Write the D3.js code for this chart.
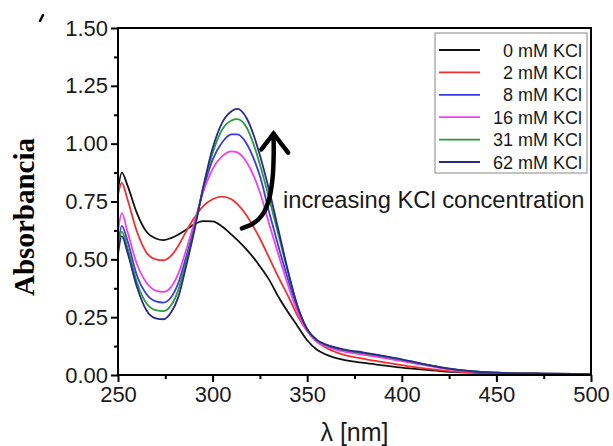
<!DOCTYPE html>
<html><head><meta charset="utf-8">
<script src="https://cdn.jsdelivr.net/npm/d3@7"></script>
<style>html,body{margin:0;padding:0;background:#fff}svg{display:block}</style>
</head><body>
<svg id="c" width="613" height="446"></svg>
<script>
const wavelengths = [250,252,255,260,265,270,274,278,282,286,290,295,300,305,310,313,318,322,325,330,335,340,345,350,355,360,370,380,390,400,410,420,430,440,450,475,500];
const kcl0  = [0.80,0.875,0.82,0.70,0.62,0.59,0.583,0.592,0.607,0.628,0.650,0.665,0.664,0.642,0.607,0.584,0.542,0.503,0.470,0.410,0.335,0.270,0.210,0.150,0.110,0.088,0.064,0.052,0.042,0.032,0.024,0.017,0.012,0.009,0.007,0.004,0.003];
const kcl2  = [0.78,0.83,0.76,0.62,0.53,0.50,0.496,0.515,0.560,0.620,0.675,0.730,0.760,0.771,0.760,0.740,0.690,0.635,0.590,0.505,0.420,0.340,0.255,0.190,0.145,0.118,0.086,0.070,0.056,0.043,0.031,0.021,0.014,0.010,0.008,0.005,0.004];
const kcl8  = [0.56,0.645,0.58,0.43,0.35,0.318,0.313,0.335,0.400,0.510,0.630,0.800,0.930,1.005,1.040,1.040,1.000,0.930,0.860,0.700,0.550,0.410,0.285,0.195,0.150,0.128,0.105,0.092,0.079,0.064,0.048,0.033,0.021,0.014,0.010,0.006,0.004];
const kcl16 = [0.62,0.70,0.62,0.48,0.40,0.365,0.359,0.380,0.440,0.540,0.650,0.790,0.890,0.945,0.967,0.962,0.920,0.855,0.790,0.650,0.515,0.385,0.270,0.190,0.145,0.124,0.100,0.087,0.074,0.060,0.045,0.031,0.020,0.013,0.010,0.006,0.004];
const kcl31 = [0.54,0.62,0.55,0.40,0.31,0.28,0.276,0.300,0.370,0.490,0.620,0.810,0.960,1.060,1.100,1.106,1.070,0.990,0.910,0.760,0.600,0.440,0.295,0.198,0.152,0.130,0.108,0.095,0.082,0.066,0.049,0.034,0.022,0.014,0.010,0.006,0.004];
const kcl62 = [0.52,0.60,0.53,0.38,0.28,0.245,0.241,0.270,0.340,0.470,0.610,0.810,0.980,1.090,1.140,1.150,1.110,1.030,0.950,0.795,0.620,0.445,0.295,0.198,0.152,0.131,0.110,0.097,0.083,0.068,0.050,0.034,0.022,0.014,0.010,0.006,0.004];
const seriesNames = ["0 mM KCl","2 mM KCl","8 mM KCl","16 mM KCl","31 mM KCl","62 mM KCl"];
const seriesColors = ["#111111","#f03030","#3a3ae8","#f040f0","#2a9a3a","#2a2a88"];
const xTicks = [250,300,350,400,450,500];
const yTicks = [0,0.25,0.5,0.75,1.0,1.25,1.5];
const annotationText = "increasing KCl concentration";
const arrowPath = [[315.5,0.634],[321.5,0.655],[326.5,0.695],[330.0,0.765],[331.8,0.860],[332.3,0.960],[332.2,1.043]];
const arrowHead = [[325.8,0.975],[332.2,1.043],[339.9,0.961]];

const allSeries = [kcl0,kcl2,kcl8,kcl16,kcl31,kcl62];
const svg = d3.select("#c");
const L = 118, R = 591, T = 28, B = 375;
const x = d3.scaleLinear().domain([250,500]).range([L,R]);
const y = d3.scaleLinear().domain([0,1.5]).range([B,T]);
const font = "Liberation Sans, Arial, sans-serif";

// stray mark at top-left
svg.append("line").attr("x1",43).attr("y1",15).attr("x2",40).attr("y2",21)
  .attr("stroke","#000").attr("stroke-width",2.5).attr("stroke-linecap","round");

svg.append("defs").append("clipPath").attr("id","pc")
  .append("rect").attr("x",L).attr("y",T-2).attr("width",R-L).attr("height",B-T+2);

const line = d3.line().x((d,i)=>x(wavelengths[i])).y(d=>y(d)).curve(d3.curveMonotoneX);
const g = svg.append("g").attr("clip-path","url(#pc)");
allSeries.forEach((s,i)=>{
  g.append("path").datum(s).attr("d",line).attr("fill","none")
    .attr("stroke",seriesColors[i]).attr("stroke-width",1.8).attr("stroke-linejoin","round");
});

// frame
svg.append("rect").attr("x",L).attr("y",T).attr("width",R-L).attr("height",B-T)
  .attr("fill","none").attr("stroke","#000").attr("stroke-width",2);

// axes
const xAxis = d3.axisBottom(x).tickValues(xTicks).tickSize(7).tickPadding(4).tickFormat(d3.format("d"));
const xMinor = d3.axisBottom(x).tickValues(d3.range(275,500,50)).tickSize(4).tickFormat("");
const yAxis = d3.axisLeft(y).tickValues(yTicks).tickSize(7).tickPadding(3).tickFormat(d3.format(".2f"));
const yMinor = d3.axisLeft(y).tickValues(d3.range(0.125,1.5,0.25)).tickSize(4).tickFormat("");
function styleAxis(sel){
  sel.select(".domain").remove();
  sel.selectAll("line").attr("stroke","#000").attr("stroke-width",2);
  sel.selectAll("text").attr("font-family",font).attr("font-size",22).attr("fill","#1a1a1a");
}
svg.append("g").attr("transform",`translate(0,${B})`).call(xAxis).call(styleAxis);
svg.append("g").attr("transform",`translate(0,${B})`).call(xMinor).call(styleAxis);
svg.append("g").attr("transform",`translate(${L},0)`).call(yAxis).call(styleAxis);
svg.append("g").attr("transform",`translate(${L},0)`).call(yMinor).call(styleAxis);

// axis titles
svg.append("text").attr("x",(L+R)/2).attr("y",441).attr("text-anchor","middle")
  .attr("font-family",font).attr("font-size",25).attr("fill","#1a1a1a").text("λ [nm]");
svg.append("text").attr("transform","translate(34,217) rotate(-90)").attr("text-anchor","middle")
  .attr("font-family","Liberation Serif, Times New Roman, serif").attr("font-weight","bold")
  .attr("font-size",29).attr("fill","#000").text("Absorbancia");

// legend
const lg = svg.append("g");
lg.append("rect").attr("x",435).attr("y",33).attr("width",152).attr("height",140)
  .attr("fill","#fff").attr("stroke","#888").attr("stroke-width",1);
seriesNames.forEach((n,i)=>{
  const yy = 50 + i*22.4;
  lg.append("line").attr("x1",439).attr("x2",480).attr("y1",yy).attr("y2",yy)
    .attr("stroke",seriesColors[i]).attr("stroke-width",1.8);
  lg.append("text").attr("x",582).attr("y",yy+6.5).attr("text-anchor","end")
    .attr("font-family",font).attr("font-size",18).attr("fill","#1a1a1a").text(n);
});

// annotation
const aLine = d3.line().x(d=>x(d[0])).y(d=>y(d[1])).curve(d3.curveCatmullRom);
svg.append("path").datum(arrowPath).attr("d",aLine).attr("fill","none")
  .attr("stroke","#000").attr("stroke-width",4.5).attr("stroke-linecap","round");
svg.append("path").datum(arrowHead).attr("d",d3.line().x(d=>x(d[0])).y(d=>y(d[1])))
  .attr("fill","none").attr("stroke","#000").attr("stroke-width",4.5)
  .attr("stroke-linecap","round").attr("stroke-linejoin","miter");
svg.append("text").attr("x",x(337.2)).attr("y",y(0.72)).attr("font-family",font)
  .attr("font-size",23.7).attr("fill","#1a1a1a").text(annotationText);
</script>
</body></html>
